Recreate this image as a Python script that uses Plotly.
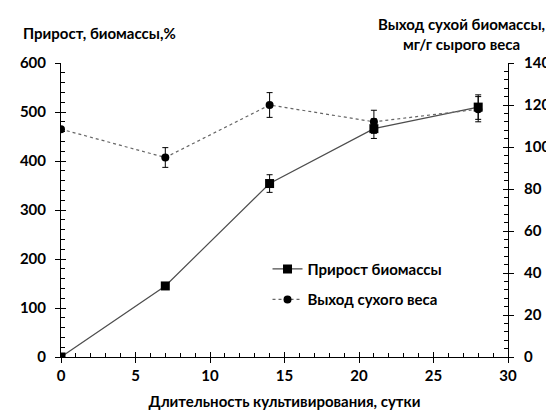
import plotly.graph_objects as go

days = [0, 7, 14, 21, 28]
growth = [0, 145, 354, 466, 510]          # Прирост биомассы, %
growth_err = [0, 0, 18, 20, 25]
dry = [108.5, 95, 120, 112, 118]          # Выход сухого веса, мг/г
dry_err = [0, 4.7, 5.9, 5.5, 6]

x_ticks = [0, 5, 10, 15, 20, 25, 30]
y1_ticks = [0, 100, 200, 300, 400, 500, 600]
y2_ticks = [0, 20, 40, 60, 80, 100, 120, 140]

FONT = "Lato"
fs = 15

fig = go.Figure()
fig.add_trace(go.Scatter(
    x=days, y=growth, name="Прирост биомассы", mode="lines+markers",
    line=dict(color="#4d4d4d", width=1.2),
    marker=dict(symbol="square", size=9, color="black"),
    error_y=dict(type="data", array=growth_err, color="black", thickness=1, width=3),
    legendgroup="a", xaxis="x", yaxis="y"))
fig.add_trace(go.Scatter(
    x=days, y=dry, name="Выход сухого веса", mode="lines+markers",
    line=dict(color="#666666", width=1.2, dash="dot"),
    marker=dict(symbol="circle", size=8, color="black"),
    error_y=dict(type="data", array=dry_err, color="black", thickness=1, width=3),
    legendgroup="b", xaxis="x", yaxis="y2"))
# empty helper traces so the overlay axes (inner halves of cross ticks) are drawn
fig.add_trace(go.Scatter(x=[None], y=[None], xaxis="x2", yaxis="y3", showlegend=False))
fig.add_trace(go.Scatter(x=[None], y=[None], xaxis="x2", yaxis="y4", showlegend=False))

tickfont = dict(family=FONT, size=fs, color="black", weight="bold")
common = dict(showgrid=False, zeroline=False, showline=True, linecolor="black", linewidth=1,
              tickcolor="black", tickwidth=1, ticklen=5)

fig.update_layout(
    width=554, height=412,
    margin=dict(l=45, r=48, t=55, b=63),
    paper_bgcolor="white", plot_bgcolor="white",
    font=dict(family=FONT, size=fs, color="black"),
    xaxis=dict(range=[0, 30], tickvals=x_ticks, ticks="outside", tickfont=tickfont, **common,
               title=dict(text="Длительность культивирования, сутки",
                          font=dict(family=FONT, size=fs, color="black", weight="bold"), standoff=13)),
    xaxis2=dict(range=[0, 30], overlaying="x", anchor="y3", tickvals=x_ticks, ticks="inside",
                showticklabels=False, minor=dict(dtick=1, ticks="inside", ticklen=4, tickcolor="black"),
                **common),
    yaxis=dict(range=[0, 600], tickvals=y1_ticks, ticks="outside", tickfont=tickfont,
               ticklabelstandoff=6, **common),
    yaxis3=dict(range=[0, 600], overlaying="y", anchor="x2", side="left", tickvals=y1_ticks,
                ticks="inside", showticklabels=False,
                minor=dict(dtick=20, ticks="inside", ticklen=4, tickcolor="black"), **common),
    yaxis2=dict(range=[0, 140], overlaying="y", side="right", anchor="x", tickvals=y2_ticks,
                ticks="outside", tickfont=tickfont, ticklabelstandoff=7, **common),
    yaxis4=dict(range=[0, 140], overlaying="y", side="right", anchor="x2", tickvals=y2_ticks,
                ticks="inside", showticklabels=False,
                minor=dict(dtick=4, ticks="inside", ticklen=4, tickcolor="black"), **common),
    legend=dict(x=0.462, y=0.355, xanchor="left", yanchor="top", bgcolor="rgba(0,0,0,0)",
                font=dict(family=FONT, size=fs, color="black", weight="bold"),
                tracegroupgap=8, itemwidth=30),
    showlegend=True,
)

fig.add_annotation(text="Прирост, биомассы,%", xref="paper", yref="paper", x=-0.089, y=1.102,
                   xanchor="left", yanchor="middle", showarrow=False,
                   font=dict(family=FONT, size=fs, color="black", weight="bold"))
fig.add_annotation(text="Выход сухой биомассы,<br>мг/г сырого веса", xref="paper", yref="paper",
                   x=0.895, y=1.1, xanchor="center", yanchor="middle", showarrow=False, align="center",
                   font=dict(family=FONT, size=fs, color="black", weight="bold"))

fig.write_html("out.html")
